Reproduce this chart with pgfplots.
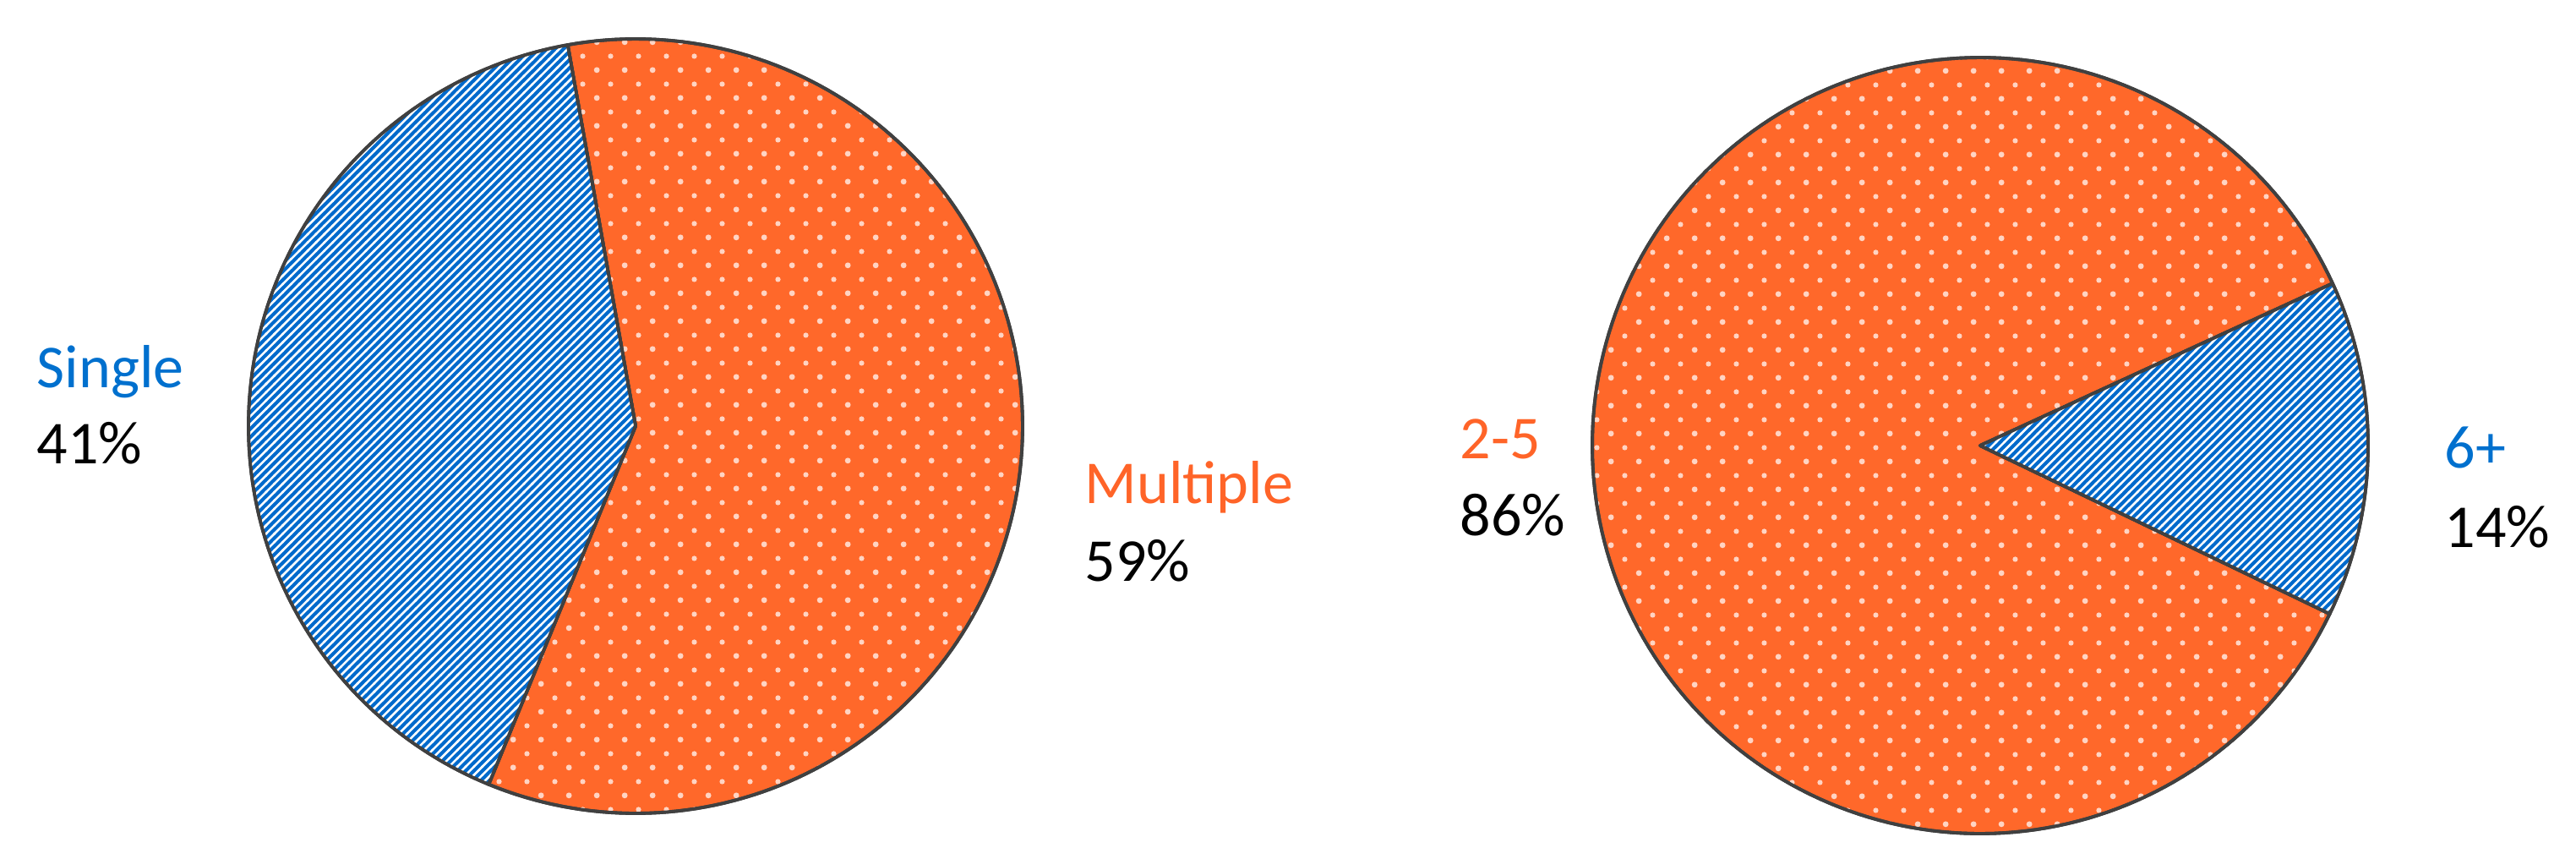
\documentclass[border=0pt]{standalone}
\usepackage{fontspec}
\setmainfont{Carlito}
\usepackage{pgfplots}
\pgfplotsset{compat=1.18}
\usetikzlibrary{patterns}
\definecolor{pieorange}{RGB}{255,104,42}
\definecolor{pieblue}{RGB}{0,106,204}
\definecolor{txtblue}{RGB}{0,112,206}
\definecolor{txtorange}{RGB}{255,100,40}
\definecolor{dotcol}{RGB}{255,212,195}
\definecolor{edge}{RGB}{64,64,64}
\pgfdeclarepatternformonly{piedots}{\pgfqpoint{0pt}{0pt}}{\pgfqpoint{9.48pt}{9.48pt}}{\pgfqpoint{9.48pt}{9.48pt}}{%
  \pgfpathcircle{\pgfqpoint{2.37pt}{2.37pt}}{1.0pt}%
  \pgfpathcircle{\pgfqpoint{7.11pt}{7.11pt}}{0.9pt}%
  \pgfusepath{fill}}
\pgfdeclarepatternformonly{piestripes}{\pgfqpoint{-1pt}{-1pt}}{\pgfqpoint{3.8pt}{3.8pt}}{\pgfqpoint{2.8pt}{2.8pt}}{%
  \pgfsetlinewidth{0.72pt}%
  \pgfpathmoveto{\pgfqpoint{-0.2pt}{-0.2pt}}%
  \pgfpathlineto{\pgfqpoint{3.0pt}{3.0pt}}%
  \pgfusepath{stroke}}
\tikzset{lbl/.style={font=\fontsize{20.5pt}{24pt}\selectfont, inner sep=0pt, anchor=base west}}
\begin{document}
\begin{tikzpicture}
\begin{axis}[
  width=30.48cm, height=10.15cm, scale only axis,
  xmin=0, xmax=3048, ymin=0, ymax=1015,
  hide axis, clip=false,
]
% frame of the picture (invisible)
\path (rel axis cs:0,0) rectangle (rel axis cs:1,1);
% Left pie: Single 41 %, Multiple 59 %  (center 752,511; r 458; Single starts at 100.1 deg)
% Single: 100.1 -> 100.1+0.41*360 = 247.7 ; Multiple: 247.7 -> 460.1
\addplot[fill=pieorange, draw=edge, line width=1.1pt, line join=round,
  postaction={pattern=piedots, pattern color=dotcol},
  domain=247.7:460.1, samples=150, variable=\t]
  ({752+458*cos(t)},{511+458*sin(t)}) -- (752,511) -- cycle;
\addplot[fill=pieblue, draw=edge, line width=1.1pt, line join=round,
  postaction={pattern=piestripes, pattern color=white},
  domain=100.1:247.7, samples=120, variable=\t]
  ({752+458*cos(t)},{511+458*sin(t)}) -- (752,511) -- cycle;
% Right pie: 2-5 86 %, 6+ 14 % (center 2343,488; r 459)
% 6+: -25.7 -> 24.7 ; 2-5: 24.7 -> 334.3
\addplot[fill=pieorange, draw=edge, line width=1.1pt, line join=round,
  postaction={pattern=piedots, pattern color=dotcol},
  domain=24.7:334.3, samples=200, variable=\t]
  ({2343+459*cos(t)},{488+459*sin(t)}) -- (2343,488) -- cycle;
\addplot[fill=pieblue, draw=edge, line width=1.1pt, line join=round,
  postaction={pattern=piestripes, pattern color=white},
  domain=-25.7:24.7, samples=60, variable=\t]
  ({2343+459*cos(t)},{488+459*sin(t)}) -- (2343,488) -- cycle;
% Labels
\node[lbl, text=txtblue] at (axis cs:43,557) {Single};
\node[lbl] at (axis cs:43,467) {41\%};
\node[lbl, text=txtorange] at (axis cs:1283,420) {Multiple};
\node[lbl] at (axis cs:1283,328) {59\%};
\node[lbl, text=txtorange] at (axis cs:1727,473) {2-5};
\node[lbl] at (axis cs:1727,382) {86\%};
\node[lbl, text=txtblue] at (axis cs:2892,462) {6+};
\node[lbl] at (axis cs:2892,368) {14\%};
\end{axis}
\end{tikzpicture}
\end{document}
